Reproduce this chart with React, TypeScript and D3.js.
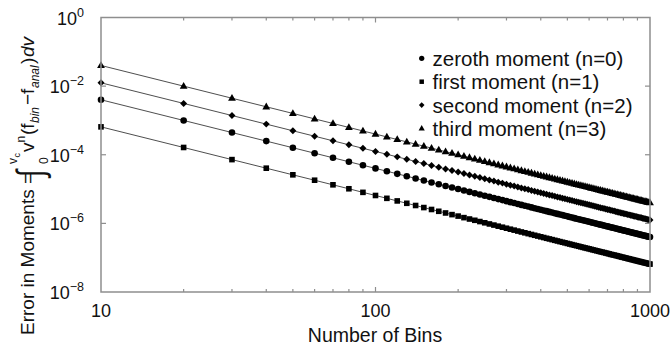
import React from "react";
import * as d3 from "d3";

// Number of bins used in the discretisation
const bins = [
  10, 20, 30, 40, 50, 60, 70, 80, 90, 100,
  110, 120, 130, 140, 150, 160, 170, 180, 190, 200,
  210, 220, 230, 240, 250, 260, 270, 280, 290, 300,
  310, 320, 330, 340, 350, 360, 370, 380, 390, 400,
  410, 420, 430, 440, 450, 460, 470, 480, 490, 500,
  510, 520, 530, 540, 550, 560, 570, 580, 590, 600,
  610, 620, 630, 640, 650, 660, 670, 680, 690, 700,
  710, 720, 730, 740, 750, 760, 770, 780, 790, 800,
  810, 820, 830, 840, 850, 860, 870, 880, 890, 900,
  910, 920, 930, 940, 950, 960, 970, 980, 990, 1000,
];

// Error in the zeroth moment (n=0)
const zerothMoment = [
  4.00e-3, 1.00e-3, 4.44e-4, 2.50e-4, 1.60e-4, 1.11e-4, 8.16e-5, 6.25e-5, 4.94e-5, 4.00e-5,
  3.31e-5, 2.78e-5, 2.37e-5, 2.04e-5, 1.78e-5, 1.56e-5, 1.38e-5, 1.23e-5, 1.11e-5, 1.00e-5,
  9.07e-6, 8.26e-6, 7.56e-6, 6.94e-6, 6.40e-6, 5.92e-6, 5.49e-6, 5.10e-6, 4.76e-6, 4.44e-6,
  4.16e-6, 3.91e-6, 3.67e-6, 3.46e-6, 3.27e-6, 3.09e-6, 2.92e-6, 2.77e-6, 2.63e-6, 2.50e-6,
  2.38e-6, 2.27e-6, 2.16e-6, 2.07e-6, 1.98e-6, 1.89e-6, 1.81e-6, 1.74e-6, 1.67e-6, 1.60e-6,
  1.54e-6, 1.48e-6, 1.42e-6, 1.37e-6, 1.32e-6, 1.28e-6, 1.23e-6, 1.19e-6, 1.15e-6, 1.11e-6,
  1.07e-6, 1.04e-6, 1.01e-6, 9.77e-7, 9.47e-7, 9.18e-7, 8.91e-7, 8.65e-7, 8.40e-7, 8.16e-7,
  7.93e-7, 7.72e-7, 7.51e-7, 7.30e-7, 7.11e-7, 6.93e-7, 6.75e-7, 6.57e-7, 6.41e-7, 6.25e-7,
  6.10e-7, 5.95e-7, 5.81e-7, 5.67e-7, 5.54e-7, 5.41e-7, 5.28e-7, 5.17e-7, 5.05e-7, 4.94e-7,
  4.83e-7, 4.73e-7, 4.62e-7, 4.53e-7, 4.43e-7, 4.34e-7, 4.25e-7, 4.16e-7, 4.08e-7, 4.00e-7,
];

// Error in the first moment (n=1)
const firstMoment = [
  6.50e-4, 1.63e-4, 7.22e-5, 4.06e-5, 2.60e-5, 1.81e-5, 1.33e-5, 1.02e-5, 8.02e-6, 6.50e-6,
  5.37e-6, 4.51e-6, 3.85e-6, 3.32e-6, 2.89e-6, 2.54e-6, 2.25e-6, 2.01e-6, 1.80e-6, 1.63e-6,
  1.47e-6, 1.34e-6, 1.23e-6, 1.13e-6, 1.04e-6, 9.62e-7, 8.92e-7, 8.29e-7, 7.73e-7, 7.22e-7,
  6.76e-7, 6.35e-7, 5.97e-7, 5.62e-7, 5.31e-7, 5.02e-7, 4.75e-7, 4.50e-7, 4.27e-7, 4.06e-7,
  3.87e-7, 3.68e-7, 3.52e-7, 3.36e-7, 3.21e-7, 3.07e-7, 2.94e-7, 2.82e-7, 2.71e-7, 2.60e-7,
  2.50e-7, 2.40e-7, 2.31e-7, 2.23e-7, 2.15e-7, 2.07e-7, 2.00e-7, 1.93e-7, 1.87e-7, 1.81e-7,
  1.75e-7, 1.69e-7, 1.64e-7, 1.59e-7, 1.54e-7, 1.49e-7, 1.45e-7, 1.41e-7, 1.37e-7, 1.33e-7,
  1.29e-7, 1.25e-7, 1.22e-7, 1.19e-7, 1.16e-7, 1.13e-7, 1.10e-7, 1.07e-7, 1.04e-7, 1.02e-7,
  9.91e-8, 9.67e-8, 9.44e-8, 9.21e-8, 9.00e-8, 8.79e-8, 8.59e-8, 8.39e-8, 8.21e-8, 8.02e-8,
  7.85e-8, 7.68e-8, 7.52e-8, 7.36e-8, 7.20e-8, 7.05e-8, 6.91e-8, 6.77e-8, 6.63e-8, 6.50e-8,
];

// Error in the second moment (n=2)
const secondMoment = [
  1.25e-2, 3.13e-3, 1.39e-3, 7.81e-4, 5.00e-4, 3.47e-4, 2.55e-4, 1.95e-4, 1.54e-4, 1.25e-4,
  1.03e-4, 8.68e-5, 7.40e-5, 6.38e-5, 5.56e-5, 4.88e-5, 4.33e-5, 3.86e-5, 3.46e-5, 3.13e-5,
  2.83e-5, 2.58e-5, 2.36e-5, 2.17e-5, 2.00e-5, 1.85e-5, 1.71e-5, 1.59e-5, 1.49e-5, 1.39e-5,
  1.30e-5, 1.22e-5, 1.15e-5, 1.08e-5, 1.02e-5, 9.65e-6, 9.13e-6, 8.66e-6, 8.22e-6, 7.81e-6,
  7.44e-6, 7.09e-6, 6.76e-6, 6.46e-6, 6.17e-6, 5.91e-6, 5.66e-6, 5.43e-6, 5.21e-6, 5.00e-6,
  4.81e-6, 4.62e-6, 4.45e-6, 4.29e-6, 4.13e-6, 3.99e-6, 3.85e-6, 3.72e-6, 3.59e-6, 3.47e-6,
  3.36e-6, 3.25e-6, 3.15e-6, 3.05e-6, 2.96e-6, 2.87e-6, 2.78e-6, 2.70e-6, 2.63e-6, 2.55e-6,
  2.48e-6, 2.41e-6, 2.35e-6, 2.28e-6, 2.22e-6, 2.16e-6, 2.11e-6, 2.05e-6, 2.00e-6, 1.95e-6,
  1.91e-6, 1.86e-6, 1.81e-6, 1.77e-6, 1.73e-6, 1.69e-6, 1.65e-6, 1.61e-6, 1.58e-6, 1.54e-6,
  1.51e-6, 1.48e-6, 1.45e-6, 1.41e-6, 1.39e-6, 1.36e-6, 1.33e-6, 1.30e-6, 1.28e-6, 1.25e-6,
];

// Error in the third moment (n=3)
const thirdMoment = [
  4.00e-2, 1.00e-2, 4.44e-3, 2.50e-3, 1.60e-3, 1.11e-3, 8.16e-4, 6.25e-4, 4.94e-4, 4.00e-4,
  3.31e-4, 2.78e-4, 2.37e-4, 2.04e-4, 1.78e-4, 1.56e-4, 1.38e-4, 1.23e-4, 1.11e-4, 1.00e-4,
  9.07e-5, 8.26e-5, 7.56e-5, 6.94e-5, 6.40e-5, 5.92e-5, 5.49e-5, 5.10e-5, 4.76e-5, 4.44e-5,
  4.16e-5, 3.91e-5, 3.67e-5, 3.46e-5, 3.27e-5, 3.09e-5, 2.92e-5, 2.77e-5, 2.63e-5, 2.50e-5,
  2.38e-5, 2.27e-5, 2.16e-5, 2.07e-5, 1.98e-5, 1.89e-5, 1.81e-5, 1.74e-5, 1.67e-5, 1.60e-5,
  1.54e-5, 1.48e-5, 1.42e-5, 1.37e-5, 1.32e-5, 1.28e-5, 1.23e-5, 1.19e-5, 1.15e-5, 1.11e-5,
  1.07e-5, 1.04e-5, 1.01e-5, 9.77e-6, 9.47e-6, 9.18e-6, 8.91e-6, 8.65e-6, 8.40e-6, 8.16e-6,
  7.93e-6, 7.72e-6, 7.51e-6, 7.30e-6, 7.11e-6, 6.93e-6, 6.75e-6, 6.57e-6, 6.41e-6, 6.25e-6,
  6.10e-6, 5.95e-6, 5.81e-6, 5.67e-6, 5.54e-6, 5.41e-6, 5.28e-6, 5.17e-6, 5.05e-6, 4.94e-6,
  4.83e-6, 4.73e-6, 4.62e-6, 4.53e-6, 4.43e-6, 4.34e-6, 4.25e-6, 4.16e-6, 4.08e-6, 4.00e-6,
];

const seriesNames = [
  "zeroth moment (n=0)",
  "first moment (n=1)",
  "second moment (n=2)",
  "third moment (n=3)",
];
const seriesShapes = ["circle", "square", "diamond", "triangle"];
const seriesValues = [zerothMoment, firstMoment, secondMoment, thirdMoment];

const xTickLabels = [10, 100, 1000];
const yTickExponents = [0, -2, -4, -6, -8];

const W = 671;
const H = 351;
const M = { left: 101, right: 650, top: 17.5, bottom: 292 };
const FONT = "'Liberation Sans', Arial, Helvetica, sans-serif";
const AXIS = "#8e8e8e";

function markerPath(shape: string, s: number): string {
  switch (shape) {
    case "circle":
      return `M${-s},0A${s},${s} 0 1,0 ${s},0A${s},${s} 0 1,0 ${-s},0Z`;
    case "square":
      return `M${-s},${-s}H${s}V${s}H${-s}Z`;
    case "diamond":
      return `M0,${-s * 1.2}L${s * 1.2},0L0,${s * 1.2}L${-s * 1.2},0Z`;
    default: {
      const h = s * 1.75;
      return `M0,${-h * 0.62}L${s},${h * 0.38}L${-s},${h * 0.38}Z`;
    }
  }
}

const markerSize: Record<string, number> = {
  circle: 3.3,
  square: 2.8,
  diamond: 2.9,
  triangle: 3.9,
};

export default function App() {
  const x = d3.scaleLog().domain([10, 1000]).range([M.left, M.right]);
  const y = d3.scaleLog().domain([1e-8, 1]).range([M.bottom, M.top]);
  const line = d3
    .line<number>()
    .x((_, i) => x(bins[i]))
    .y((v) => y(v));

  const xMinor = x.ticks().filter((t) => !xTickLabels.includes(t));
  const yInner = yTickExponents.slice(1, -1);

  return (
    <svg
      width={W}
      height={H}
      style={{ position: "absolute", left: 0, top: 0, background: "#fff" }}
      fontFamily={FONT}
    >
      <rect width={W} height={H} fill="#fff" />

      {/* series lines */}
      {seriesValues.map((vals, si) => (
        <path
          key={`l${si}`}
          d={line(vals) || ""}
          fill="none"
          stroke="#3a3a3a"
          strokeWidth={0.9}
        />
      ))}

      {/* series markers */}
      {seriesValues.map((vals, si) =>
        vals.map((v, i) => (
          <path
            key={`m${si}-${i}`}
            transform={`translate(${x(bins[i])},${y(v)})`}
            d={markerPath(seriesShapes[si], markerSize[seriesShapes[si]])}
            fill="#000"
          />
        ))
      )}

      {/* frame */}
      <rect
        x={M.left}
        y={M.top}
        width={M.right - M.left}
        height={M.bottom - M.top}
        fill="none"
        stroke={AXIS}
        strokeWidth={1.5}
      />

      {/* x ticks (bottom and top, pointing inward) */}
      {[...xMinor, 100].map((t) => {
        const len = t === 100 ? 5 : 3;
        return (
          <g key={`xt${t}`} stroke={AXIS} strokeWidth={1.2}>
            <line x1={x(t)} x2={x(t)} y1={M.bottom} y2={M.bottom - len} />
            <line x1={x(t)} x2={x(t)} y1={M.top} y2={M.top + len} />
          </g>
        );
      })}

      {/* y ticks (left and right, pointing inward) */}
      {yInner.map((e) => (
        <g key={`yt${e}`} stroke={AXIS} strokeWidth={1.2}>
          <line x1={M.left} x2={M.left + 5} y1={y(10 ** e)} y2={y(10 ** e)} />
          <line x1={M.right} x2={M.right - 5} y1={y(10 ** e)} y2={y(10 ** e)} />
        </g>
      ))}

      {/* x tick labels */}
      {xTickLabels.map((t) => (
        <text
          key={`xl${t}`}
          x={x(t)}
          y={316.5}
          textAnchor="middle"
          fontSize={18}
          fill="#111"
        >
          {t}
        </text>
      ))}

      {/* y tick labels: 10^e */}
      {yTickExponents.map((e) => (
        <text
          key={`yl${e}`}
          x={84}
          y={y(10 ** e) + 7}
          textAnchor="end"
          fontSize={18}
          fill="#111"
        >
          10
          <tspan dy={-8} fontSize={12.5}>
            {e === 0 ? "0" : `\u2212${-e}`}
          </tspan>
        </text>
      ))}

      {/* x axis title */}
      <text x={375} y={342} textAnchor="middle" fontSize={19.5} fill="#111">
        Number of Bins
      </text>

      {/* y axis title */}
      <g transform="translate(34,335) rotate(-90)" fill="#111">
        <text x={0} y={0} fontSize={19}>
          Error in Moments =
        </text>
        <text
          transform="translate(158,9) scale(1,1.45)"
          fontSize={26}
        >
          ∫
        </text>
        <text x={171} y={14} fontSize={12}>
          0
        </text>
        <text x={171} y={-17} fontSize={12}>
          v
        </text>
        <text x={177.5} y={-14} fontSize={9}>
          c
        </text>
        <text x={183} y={0} fontSize={19}>
          v
        </text>
        <text x={192.5} y={-9} fontSize={12}>
          n
        </text>
        <text x={200} y={0} fontSize={19}>
          (f
        </text>
        <text x={212} y={5} fontSize={12} fontStyle="italic">
          bin
        </text>
        <text x={230} y={0} fontSize={19}>
          −f
        </text>
        <text x={247} y={5} fontSize={12} fontStyle="italic">
          anal
        </text>
        <text x={271} y={0} fontSize={19}>
          )
        </text>
        <text x={278} y={0} fontSize={19} fontStyle="italic">
          dv
        </text>
      </g>

      {/* legend */}
      {seriesNames.map((name, i) => {
        const ly = 58.3 + i * 23.4;
        return (
          <g key={`lg${i}`}>
            <path
              transform={`translate(421.7,${ly})`}
              d={markerPath(seriesShapes[i], markerSize[seriesShapes[i]] * 0.8)}
              fill="#000"
            />
            <text x={432.5} y={ly + 7.5} fontSize={20.5} fill="#111">
              {name}
            </text>
          </g>
        );
      })}
    </svg>
  );
}
